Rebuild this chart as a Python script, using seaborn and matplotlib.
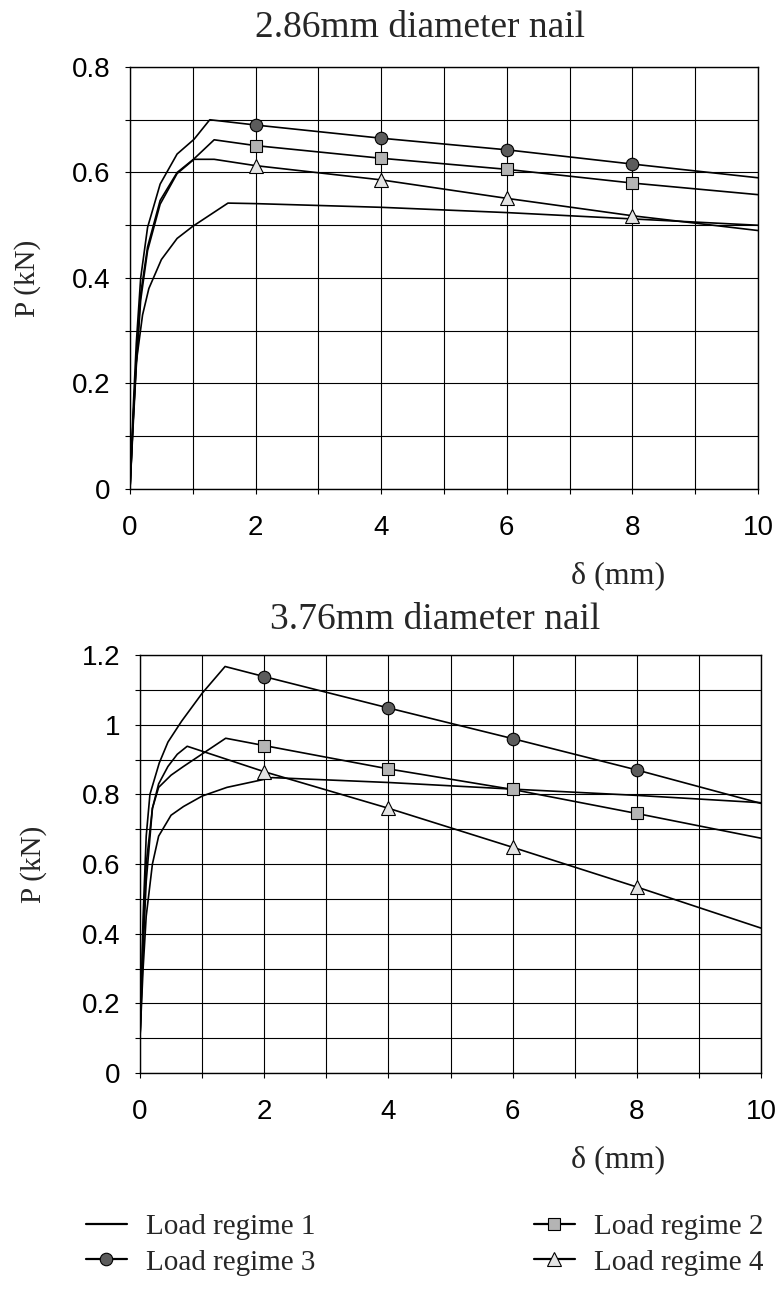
import numpy as np
import pandas as pd
import seaborn as sns
import matplotlib.pyplot as plt
from matplotlib.lines import Line2D
from matplotlib.ticker import MultipleLocator, FuncFormatter

# ---- 2.86mm diameter nail ----
top_x1 = [0, 0.05, 0.1, 0.2, 0.3, 0.5, 0.75, 1.0, 1.56, 2, 4, 6, 8, 10]
top_y1 = [0, 0.13, 0.24, 0.33, 0.38, 0.435, 0.475, 0.498, 0.542, 0.541, 0.534, 0.524, 0.512, 0.5]
top_x2 = [0, 0.05, 0.1, 0.17, 0.28, 0.48, 0.75, 1.02, 1.34, 2, 4, 6, 8, 10]
top_y2 = [0, 0.13, 0.244, 0.37, 0.459, 0.547, 0.6, 0.626, 0.662, 0.651, 0.627, 0.606, 0.58, 0.558]
top_x3 = [0, 0.05, 0.1, 0.17, 0.28, 0.48, 0.75, 1.02, 1.27, 2, 4, 6, 8, 10]
top_y3 = [0, 0.15, 0.276, 0.4, 0.496, 0.578, 0.635, 0.663, 0.7, 0.69, 0.665, 0.643, 0.616, 0.59]
top_x4 = [0, 0.05, 0.1, 0.17, 0.28, 0.48, 0.75, 1.02, 1.34, 2, 4, 6, 8, 10]
top_y4 = [0, 0.12, 0.232, 0.358, 0.452, 0.54, 0.598, 0.625, 0.625, 0.613, 0.586, 0.551, 0.518, 0.49]

# ---- 3.76mm diameter nail ----
bot_x1 = [0, 0.05, 0.1, 0.2, 0.3, 0.5, 0.7, 1.0, 1.4, 2.13, 4, 6, 8, 10]
bot_y1 = [0.1, 0.3, 0.45, 0.6, 0.68, 0.74, 0.765, 0.795, 0.82, 0.848, 0.834, 0.815, 0.797, 0.776]
bot_x2 = [0, 0.05, 0.1, 0.2, 0.3, 0.5, 0.7, 1.38, 2, 4, 6, 8, 10]
bot_y2 = [0.1, 0.35, 0.55, 0.76, 0.82, 0.855, 0.88, 0.961, 0.94, 0.873, 0.814, 0.745, 0.674]
bot_x3 = [0, 0.05, 0.1, 0.16, 0.31, 0.45, 0.67, 1.0, 1.37, 2, 4, 6, 8, 10]
bot_y3 = [0.1, 0.45, 0.68, 0.8, 0.89, 0.95, 1.01, 1.09, 1.167, 1.138, 1.048, 0.96, 0.87, 0.774]
bot_x4 = [0, 0.05, 0.1, 0.2, 0.3, 0.45, 0.6, 0.76, 2, 4, 6, 8, 10]
bot_y4 = [0.1, 0.4, 0.6, 0.76, 0.83, 0.88, 0.915, 0.938, 0.865, 0.76, 0.648, 0.534, 0.416]

marker_x = [2, 4, 6, 8]
labels = ["Load regime 1", "Load regime 2", "Load regime 3", "Load regime 4"]

sns.set_style("ticks")
plt.rcParams['font.family'] = ['Liberation Sans', 'DejaVu Sans']
SERIF = ['Liberation Serif', 'DejaVu Serif']

styles = [
    dict(),
    dict(marker='s', markersize=8, markerfacecolor='#b4b4b4'),
    dict(marker='o', markersize=9, markerfacecolor='#5c5c5c'),
    dict(marker='^', markersize=10.5, markerfacecolor='#e4e4e4'),
]


def draw_panel(ax, xs, ys, ymax):
    for x, y, st in zip(xs, ys, styles):
        kw = dict(st)
        if 'marker' in kw:
            kw['markevery'] = [x.index(v) for v in marker_x]
            kw['markeredgecolor'] = 'black'
            kw['markeredgewidth'] = 0.8
        sns.lineplot(x=x, y=y, ax=ax, color='black', linewidth=1.2,
                     sort=False, estimator=None, **kw)
    ax.set_xlim(0, 10)
    ax.set_ylim(0, ymax)
    ax.xaxis.set_major_locator(MultipleLocator(2))
    ax.xaxis.set_minor_locator(MultipleLocator(1))
    ax.yaxis.set_major_locator(MultipleLocator(0.2))
    ax.yaxis.set_minor_locator(MultipleLocator(0.1))
    ax.yaxis.set_major_formatter(FuncFormatter(lambda v, _: f'{v:g}'))
    ax.grid(which='both', color='black', linewidth=0.8)
    ax.tick_params(which='both', direction='out', length=3.6, width=0.8, colors='black')
    ax.tick_params(axis='x', which='major', labelsize=20, pad=15)
    ax.tick_params(axis='y', which='major', labelsize=20, pad=10.5)
    for s in ax.spines.values():
        s.set_color('black')
        s.set_linewidth(1)
    ax.set_xlabel('')
    ax.set_ylabel('')


W, H = 778, 1290
fig = plt.figure(figsize=(W / 100, H / 100), dpi=100)

ax1 = fig.add_axes([130 / W, 1 - 489 / H, 628 / W, 422 / H])
draw_panel(ax1, [top_x1, top_x2, top_x3, top_x4], [top_y1, top_y2, top_y3, top_y4], 0.8)
ax2 = fig.add_axes([140 / W, 1 - 1073 / H, 621 / W, 418 / H])
draw_panel(ax2, [bot_x1, bot_x2, bot_x3, bot_x4], [bot_y1, bot_y2, bot_y3, bot_y4], 1.2)

fig.text(420 / W, 1 - 37 / H, "2.86mm diameter nail", family=SERIF, fontsize=27,
         ha='center', va='baseline')
fig.text(435 / W, 1 - 629 / H, "3.76mm diameter nail", family=SERIF, fontsize=27,
         ha='center', va='baseline')
fig.text(618 / W, 1 - 576 / H, "δ (mm)", family=SERIF, fontsize=23, ha='center', va='center')
fig.text(618 / W, 1 - 1160 / H, "δ (mm)", family=SERIF, fontsize=23, ha='center', va='center')
fig.text(28 / W, 1 - 278 / H, "P (kN)", family=SERIF, fontsize=21, rotation=90,
         ha='center', va='center')
fig.text(34 / W, 1 - 864 / H, "P (kN)", family=SERIF, fontsize=21, rotation=90,
         ha='center', va='center')

handles = []
for st in styles:
    kw = dict(st)
    if 'marker' in kw:
        kw['markeredgecolor'] = 'black'
        kw['markeredgewidth'] = 0.8
    handles.append(Line2D([], [], color='black', linewidth=1.6, **kw))
order = [0, 2, 1, 3]
fig.legend([handles[i] for i in order], [labels[i] for i in order], ncol=2,
           loc='upper left', bbox_to_anchor=(86 / W, 1 - 1214 / H), frameon=False,
           prop={'family': SERIF, 'size': 21}, handlelength=1.4, handletextpad=0.65,
           columnspacing=7.5, labelspacing=0.3, borderpad=0, borderaxespad=0)

fig.savefig("out.png", dpi=100)
